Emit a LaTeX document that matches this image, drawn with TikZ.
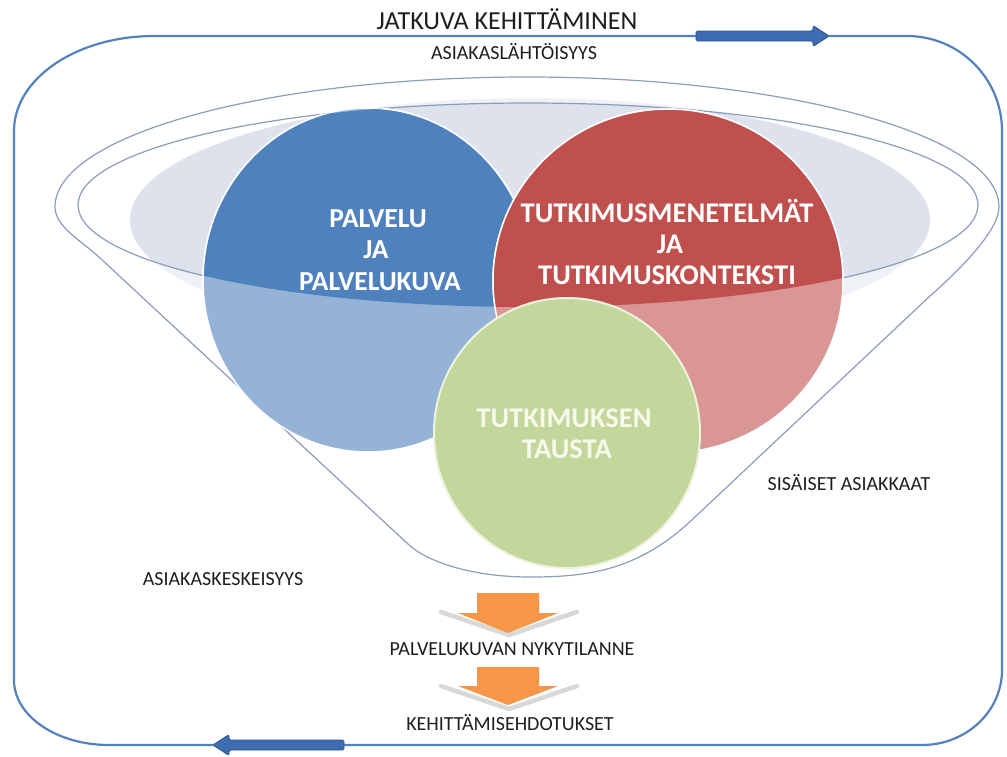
\documentclass[tikz,border=0pt]{standalone}
\usepackage{fontspec}
\setmainfont{Carlito}
\definecolor{frameblue}{RGB}{84,130,190}
\definecolor{arrowblue}{RGB}{62,108,176}
\definecolor{arrowedge}{RGB}{44,84,145}
\definecolor{funnelgray}{RGB}{140,156,188}
\definecolor{rimfill}{RGB}{221,226,236}
\definecolor{rimfilllight}{RGB}{238,241,246}
\definecolor{bluedark}{RGB}{79,129,189}
\definecolor{bluelight}{RGB}{149,179,215}
\definecolor{reddark}{RGB}{192,80,77}
\definecolor{redlight}{RGB}{217,150,148}
\definecolor{greenfill}{RGB}{195,214,155}
\definecolor{greenedge}{RGB}{238,243,222}
\definecolor{orangefill}{RGB}{247,150,70}
\definecolor{chevrongray}{RGB}{216,216,216}
\definecolor{textdark}{RGB}{30,30,30}
\definecolor{greentext}{RGB}{247,249,234}
\begin{document}
\begin{tikzpicture}[x=1pt,y=-1pt,
  frame/.style={draw=frameblue, line width=2.2pt},
  blockarrow/.style={fill=arrowblue, draw=arrowedge, line width=0.8pt, rounded corners=1.5pt},
  funnelline/.style={draw=funnelgray, line width=1.2pt},
  circleedge/.style={draw=white, line width=1.5pt},
  downarrow/.style={fill=orangefill},
  chevron/.style={draw=chevrongray, line width=4.5pt, line cap=round, line join=round},
  smalltxt/.style={anchor=base, inner sep=0pt, text=textdark, font=\fontsize{20}{24}\selectfont},
  titletxt/.style={anchor=base, inner sep=0pt, text=textdark, font=\fontsize{26}{30}\selectfont},
  bluetxt/.style={anchor=base, inner sep=0pt, text=white, font=\fontsize{27.5}{32}\selectfont\bfseries},
  redtxt/.style={anchor=base, inner sep=0pt, text=white, font=\fontsize{28.5}{33}\selectfont\bfseries},
  greentxt/.style={anchor=base, inner sep=0pt, text=greentext, font=\fontsize{28.5}{33}\selectfont\bfseries}]
\useasboundingbox (0,0) rectangle (1007,756);
\fill[white] (0,0) rectangle (1007,756);

% outer frame
\draw[frame] (14,131) arc[start angle=180,end angle=270,x radius=140,y radius=95] -- (907,36)
  arc[start angle=270,end angle=360,x radius=95,y radius=95] -- (1002,670)
  arc[start angle=0,end angle=90,x radius=80,y radius=75] -- (109,745)
  arc[start angle=90,end angle=180,x radius=95,y radius=65] -- cycle;

% block arrows on the frame
\filldraw[blockarrow] (696,31) -- (813,31) -- (813,25.5) -- (829,36) -- (813,46.5) -- (813,41) -- (696,41) -- cycle;
\filldraw[blockarrow] (344,740) -- (229,740) -- (229,734.5) -- (213,745) -- (229,755.5) -- (229,750) -- (344,750) -- cycle;

% light fill of the funnel opening
\fill[rimfilllight] (530,220) ellipse[x radius=400, y radius=122];
\begin{scope}
  \clip (528,205) ellipse[x radius=450, y radius=102];
  \fill[rimfill] (530,220) ellipse[x radius=400, y radius=122];
\end{scope}

% funnel outline
\draw[funnelline] (55,207) arc[start angle=180,end angle=360,x radius=472,y radius=130]
  .. controls (999,232) and (955,274) .. (930,296) -- (695,517)
  .. controls (640,570) and (590,577) .. (530,577)
  .. controls (470,577) and (426,561) .. (408,544) -- (100,258)
  .. controls (82,241) and (55,227) .. (55,207) -- cycle;
\draw[funnelline] (528,205) ellipse[x radius=450, y radius=102];

% blue circle
\filldraw[fill=bluelight, circleedge] (368,280) ellipse[x radius=165, y radius=172];
\begin{scope}
  \clip (528,205) ellipse[x radius=450, y radius=102];
  \filldraw[fill=bluedark, circleedge] (368,280) ellipse[x radius=165, y radius=172];
\end{scope}
% red circle
\filldraw[fill=redlight, circleedge] (668,281) ellipse[x radius=175, y radius=172];
\begin{scope}
  \clip (528,205) ellipse[x radius=450, y radius=102];
  \filldraw[fill=reddark, circleedge] (668,281) ellipse[x radius=175, y radius=172];
\end{scope}
% green circle
\filldraw[fill=greenfill, draw=greenedge, line width=2pt] (567,433) ellipse[x radius=133, y radius=135];

% orange down arrows with grey chevrons
\draw[chevron] (441,612) -- (509,635) -- (577,612);
\fill[downarrow] (477,593) -- (539,593) -- (539,613) -- (558,613) -- (508,633) -- (458,613) -- (477,613) -- cycle;
\draw[chevron] (441,686) -- (509,709) -- (577,686);
\fill[downarrow] (477,667) -- (539,667) -- (539,686) -- (558,686) -- (508,705) -- (458,686) -- (477,686) -- cycle;

% texts
\node[titletxt] (title) at (507,29) {JATKUVA KEHITTÄMINEN};
\node[smalltxt] (lahto) at (514,59) {ASIAKASLÄHTÖISYYS};
\node[bluetxt] (p1) at (378,227) {PALVELU};
\node[bluetxt] (p2) at (376,258) {JA};
\node[bluetxt] (p3) at (380,290) {PALVELUKUVA};
\node[redtxt] (t1) at (667,222) {TUTKIMUSMENETELMÄT};
\node[redtxt] (t2) at (670,253) {JA};
\node[redtxt] (t3) at (667,284) {TUTKIMUSKONTEKSTI};
\node[greentxt] (g1) at (564,427) {TUTKIMUKSEN};
\node[greentxt] (g2) at (567,458) {TAUSTA};
\node[smalltxt] (sis) at (849,490) {SISÄISET ASIAKKAAT};
\node[smalltxt] (kesk) at (223,585) {ASIAKASKESKEISYYS};
\node[smalltxt] (nyky) at (512,655) {PALVELUKUVAN NYKYTILANNE};
\node[smalltxt] (kehi) at (510,730) {KEHITTÄMISEHDOTUKSET};
\end{tikzpicture}
\end{document}
